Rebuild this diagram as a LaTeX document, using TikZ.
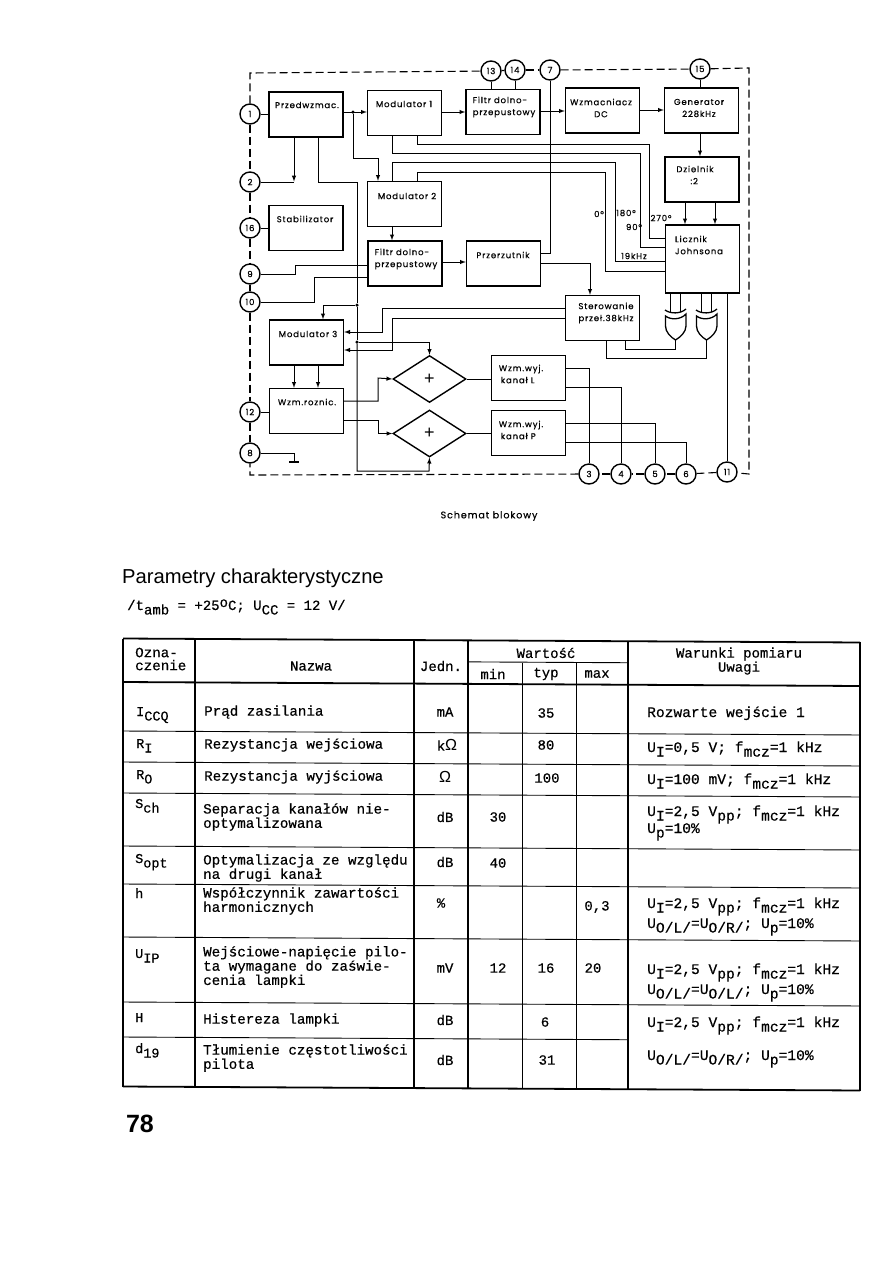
\documentclass[tikz,border=0pt]{standalone}
\usepackage{fontspec}
\setmainfont{Liberation Sans}
\newfontfamily\blokfont[FakeBold=0.6,LetterSpace=10]{Poppins}
\newfontfamily\maszfont[FakeBold=0.5]{Liberation Mono}
\usetikzlibrary{shapes.geometric}
\newcommand{\nisko}[1]{\raisebox{-4.5pt}{#1}}
\newcommand{\wysoko}[1]{\raisebox{3pt}{#1}}
\newcommand{\om}{{\rmfamily\fontsize{16}{16}\selectfont Ω}}
\tikzset{
  blok/.style={draw,line width=1.4pt,inner sep=0pt,minimum width=74pt,minimum height=45pt},
  romb/.style={draw,diamond,line width=1.4pt,inner sep=0pt,minimum width=73pt,minimum height=47pt},
  pin/.style={draw,circle,fill=white,line width=1.4pt,inner sep=0pt,minimum size=20pt,font=\blokfont\fontsize{8.5}{9}\selectfont},
  opis/.style={inner sep=0pt,align=center,font=\blokfont\fontsize{8.5}{12}\selectfont},
  opisl/.style={inner sep=0pt,align=left,font=\blokfont\fontsize{8.5}{12}\selectfont},
  wire/.style={line width=1pt},
  strz/.style={line width=1pt,-latex},
  ramka/.style={line width=1.1pt,dash pattern=on 8pt off 4pt},
  siatka/.style={line width=.9pt},
  gruba/.style={line width=1.8pt},
  tekst/.style={inner sep=0pt,anchor=west,align=left,font=\maszfont\fontsize{14.2}{13}\selectfont},
  wzor/.style={inner sep=0pt,anchor=base west,font=\maszfont\fontsize{14.6}{13}\selectfont},
  symbol/.style={inner sep=0pt,anchor=base west,font=\maszfont\fontsize{13.5}{13}\selectfont},
  srodek/.style={inner sep=0pt,align=center,font=\maszfont\fontsize{14}{13}\selectfont},
  kropka/.style={circle,fill,inner sep=0pt,minimum size=3.5pt}
}
\begin{document}
\begin{tikzpicture}[x=1pt,y=-1pt]
\useasboundingbox (0,0) rectangle (893,1262);

\node[blok] (przed) at (306,114.5) {};
\node[blok] (mod1) at (404.5,113) {};
\node[blok] (filtr1) at (503,112) {};
\node[blok] (wzm) at (602.5,110.5) {};
\node[blok] (gen) at (701.5,110.5) {};
\node[blok] (dziel) at (702,179.5) {};
\node[blok,minimum height=68pt] (licz) at (702.5,259) {};
\node[blok] (mod2) at (404.5,204) {};
\node[blok] (stab) at (306,228) {};
\node[blok] (filtr2) at (405,263.5) {};
\node[blok] (przerz) at (503.5,263.5) {};
\node[blok] (ster) at (602.5,318) {};
\node[blok] (mod3) at (306.5,342.5) {};
\node[blok] (wzmr) at (306.5,411) {};
\node[blok] (wzml) at (528.5,378) {};
\node[blok] (wzmp) at (528.5,433) {};
\node[romb] (sumal) at (429.5,379) {};
\node[romb] (sumap) at (429.5,433.5) {};

\node[opis] (tprzed) at (307,105) {Przedwzmac.};
\node[opis] (tmod1) at (404,104) {Modulator 1};
\node[opisl] (tfiltr1) at (504,107) {Filtr dolno-\\przepustowy};
\node[opis] (twzm) at (601,108) {Wzmacniacz\\DC\hspace{10pt}};
\node[opis] (tgen) at (699,108) {Generator\\228kHz};
\node[opisl] (tdziel) at (695,175) {Dzielnik\\\hspace{14pt}:2};
\node[opisl] (tlicz) at (699,245) {Licznik\\Johnsona};
\node[opis] (tmod2) at (407,196) {Modulator 2};
\node[opis] (tstab) at (305,219) {Stabilizator};
\node[opisl] (tfiltr2) at (406,259) {Filtr dolno-\\przepustowy};
\node[opis] (tprzerz) at (503,255) {Przerzutnik};
\node[opis] (tster) at (606,313) {Sterowanie\\przeł.38kHz};
\node[opis] (tmod3) at (308,334) {Modulator 3};
\node[opis] (twzmr) at (307,402) {Wzm.roznic.};
\node[opisl] (twzml) at (521,374) {Wzm.wyj.\\\hspace{2pt}kanał L};
\node[opisl] (twzmp) at (521,430) {Wzm.wyj.\\\hspace{2pt}kanał P};
\node[inner sep=0pt,font=\fontsize{18}{18}\selectfont] (plusl) at (sumal) {+};
\node[inner sep=0pt,font=\fontsize{18}{18}\selectfont] (plusp) at (sumap) {+};

\node[opis] (k0) at (599,214) {0°};
\node[opis] (k180) at (626,213) {180°};
\node[opis] (k90) at (634,227) {90°};
\node[opis] (k270) at (661,218) {270°};
\node[opis] (f19) at (634,256) {19kHz};
\node[opis,font=\blokfont\fontsize{9.5}{10}\selectfont] (podpis) at (489,516) {Schemat blokowy};

\foreach \nr/\x/\y in {1/250/114,2/250/182,16/250/228,9/250/274,10/250/302,12/250/412,8/250/453,13/491/71,14/515/70,7/550/70,15/700/69,3/589/474,4/621/474,5/655/474,6/686/474,11/727/472}
\node[pin] (p\nr) at (\x,\y) {\nr};

\coordinate (rog1) at (250,73);
\coordinate (rog2) at (749,68);
\coordinate (rog3) at (749,474);
\coordinate (rog4) at (250,475);
\draw[ramka] (p1) -- (rog1) -- (p13);
\draw[ramka] (p14) -- (p7);
\draw[ramka] (p7) -- (p15);
\draw[ramka] (p15) -- (rog2) -- (rog3) -- (p11);
\draw[ramka] (p11) -- (p6);
\draw[ramka] (p6) -- (p5);
\draw[ramka] (p5) -- (p4);
\draw[ramka] (p4) -- (p3);
\draw[ramka] (p3) -- (rog4) -- (p8);
\draw[ramka] (p1) -- (p2);
\draw[ramka] (p2) -- (p16);
\draw[ramka] (p16) -- (p9);
\draw[ramka] (p9) -- (p10);
\draw[ramka] (p10) -- (p12);
\draw[ramka] (p12) -- (p8);
\draw[ramka] (p13) -- (p14);

\draw[wire] (p1) -- (przed.west |- p1);
\draw[wire] (p16) -- (stab.west |- p16);
\draw[wire] (p12) -- (wzmr.west |- p12);
\draw[wire] (p13) -- (filtr1.north -| p13);
\draw[wire] (p14) -- (filtr1.north -| p14);
\draw[wire] (p15) -- (gen.north -| p15);
\draw[strz] (przed.east |- 0,112) -- (mod1.west |- 0,112);
\draw[strz] (mod1.east |- 0,112) -- (filtr1.west |- 0,112);
\draw[strz] (filtr1.east |- 0,111) -- (wzm.west |- 0,111);
\draw[strz] (wzm.east |- 0,110) -- (gen.west |- 0,110);
\node[kropka] (wezel1) at (353,112) {};
\draw[strz] (wezel1) |- (378,158) -- (mod2.north -| 378,0);
\draw[strz] (przed.south -| 294,0) -- (294,181.5);
\draw[wire] (p2) -- (294,182);
\draw[wire] (p7) |- (przerz.east |- 0,253);
\draw[strz] (gen.south -| p15) -- (dziel.north -| p15);
\draw[strz] (dziel.south -| 685,0) -- (licz.north -| 685,0);
\draw[strz] (dziel.south -| 715,0) -- (licz.north -| 715,0);

\draw[wire] (mod1.south -| 392,0) |- (640,153) |- (licz.west |- 0,247);
\draw[wire] (mod1.south -| 417,0) |- (649,144) |- (licz.west |- 0,238);
\draw[wire] (mod2.north -| 392,0) |- (615,162) |- (licz.west |- 0,261);
\draw[wire] (mod2.north -| 417,0) |- (605,172) |- (licz.west |- 0,271);
\draw[strz] (mod2.south -| 392,0) -- (filtr2.north -| 392,0);
\draw[strz] (filtr2.east |- 0,262) -- (przerz.west |- 0,262);
\draw[strz] (przerz.east |- 0,263) -| (ster.north -| 590,0);
\draw[wire] (p9) -| (295,265) -- (filtr2.west |- 0,265);
\draw[wire] (p10) -| (314,277) -- (filtr2.west |- 0,277);

\node[kropka] (wezel2) at (357,305) {};
\node[kropka] (wezel3) at (357,342) {};
\draw[wire] (przed.south -| 318,0) |- (357,182) -- (wezel2);
\draw[wire] (wezel2) -- (wezel3);
\draw[strz] (wezel3) |- (429,471) -- (sumap.south);
\draw[strz] (wezel2) -| (mod3.north -| 323,0);
\draw[strz] (wezel3) -| (sumal.north);
\draw[strz] (ster.west |- 0,308) -| (382,332) -- (mod3.east |- 0,332);
\draw[strz] (ster.west |- 0,318) -| (392,350) -- (mod3.east |- 0,350);
\draw[strz] (mod3.south -| 294,0) -- (wzmr.north -| 294,0);
\draw[strz] (mod3.south -| 318,0) -- (wzmr.north -| 318,0);
\draw[strz] (wzmr.east |- 0,401) -| (378,378) -- (sumal.west);
\draw[strz] (wzmr.east |- 0,420) -| (378,433.5) -- (sumap.west);
\draw[wire] (sumal.east) -- (wzml.west |- sumal.east);
\draw[wire] (sumap.east) -- (wzmp.west |- sumap.east);
\draw[wire] (wzml.east |- 0,368) -| (p3);
\draw[wire] (wzml.east |- 0,387) -| (p4);
\draw[wire] (wzmp.east |- 0,423) -| (p5);
\draw[wire] (wzmp.east |- 0,442) -| (p6);
\draw[wire] (p11) -- (licz.south -| p11);

\coordinate (ziemia) at (294,462);
\draw[wire] (p8) -| (ziemia);
\draw[line width=1.6pt] (289,462) -- (299,462);

\foreach \nazwa/\x in {xora/675.5,xorb/706.5}{
\coordinate (\nazwa) at (\x,340);
\draw[line width=1.3pt] (\x-10,316) .. controls (\x-5,320) and (\x+5,320) .. (\x+10.5,314) -- (\x+10.5,326) .. controls (\x+10.5,332) and (\x+5,337) .. (\nazwa) .. controls (\x-5,337) and (\x-10,332) .. (\x-10,326) -- cycle;
\draw[line width=1.3pt] (\x-10.5,310) .. controls (\x-5,314) and (\x+5,314) .. (\x+10.5,309);
\draw[wire] (licz.south -| \x-5,0) -- (\x-5,312);
\draw[wire] (licz.south -| \x+5,0) -- (\x+5,312);
}
\draw[wire] (xora) |- (625,349) -- (ster.south -| 625,0);
\draw[wire] (xorb) |- (606,358) -- (ster.south -| 606,0);

\node[anchor=west,inner sep=0pt,font=\fontsize{20.2}{20}\selectfont] (tytul) at (122,578) {Parametry charakterystyczne};
\node[anchor=west,inner sep=0pt,font=\maszfont\fontsize{14}{13}\selectfont] (warunki) at (127,607) {/t\nisko{amb} = +25\wysoko{o}C; U\nisko{CC} = 12 V/};

\begin{scope}[yslant=-0.0054,yshift=.66pt]
\foreach \x in {123,195,414,468,628,860}
\draw[gruba] (\x,638.5) -- (\x,1086.5);
\foreach \x in {522,576}
\draw[siatka] (\x,661) -- (\x,1086.5);
\draw[gruba] (123,638.5) -- (860,638.5);
\draw[gruba] (123,682) -- (860,682);
\draw[siatka] (468,660) -- (628,660);
\foreach \y in {731,762,793,846,884,937,1002}
\draw[siatka] (123,\y) -- (860,\y);
\draw[siatka] (123,1037) -- (628,1037);
\draw[gruba] (123,1086.5) -- (860,1086.5);
\end{scope}

\node[tekst] (h1) at (135,659) {Ozna-\\czenie};
\node[srodek] (h2) at (311,666) {Nazwa};
\node[srodek] (h3) at (441,666) {Jedn.};
\node[srodek] (h4) at (546,653) {Wartość};
\node[srodek] (h5) at (493,674) {min};
\node[srodek] (h6) at (546,674) {typ};
\node[srodek] (h7) at (597,674) {max};
\node[srodek] (h8) at (739,661) {Warunki pomiaru\\Uwagi};

\node[symbol] (a1) at (136,716) {I\nisko{CCQ}};
\node[symbol] (a2) at (136,748) {R\nisko{I}};
\node[symbol] (a3) at (136,779) {R\nisko{O}};
\node[symbol] (a4) at (135,808) {S\nisko{ch}};
\node[symbol] (a5) at (135,863) {S\nisko{opt}};
\node[symbol] (a6) at (135,898) {h};
\node[symbol] (a7) at (135,958) {U\nisko{IP}};
\node[symbol] (a8) at (135,1022) {H};
\node[symbol] (a9) at (135,1053) {d\nisko{19}};

\node[tekst] (b1) at (204,712) {Prąd zasilania};
\node[tekst] (b2) at (204,745) {Rezystancja wejściowa};
\node[tekst] (b3) at (204,777) {Rezystancja wyjściowa};
\node[tekst] (b4) at (203,817) {Separacja kanałów nie-\\optymalizowana};
\node[tekst] (b5) at (203,868) {Optymalizacja ze względu\\na drugi kanał};
\node[tekst] (b6) at (203,901) {Współczynnik zawartości\\harmonicznych};
\node[tekst] (b7) at (203,967) {Wejściowe-napięcie pilo-\\ta wymagane do zaświe-\\cenia lampki};
\node[tekst] (b8) at (203,1020) {Histereza lampki};
\node[tekst] (b9) at (203,1058) {Tłumienie częstotliwości\\pilota};

\node[srodek] (c1) at (445,712) {mA};
\node[srodek] (c2) at (447,745) {k\om};
\node[srodek] (c3) at (445,777) {\om};
\node[srodek] (c4) at (445,817) {dB};
\node[srodek] (c5) at (445,862) {dB};
\node[srodek] (c6) at (441,903) {\%};
\node[srodek] (c7) at (445,968) {mV};
\node[srodek] (c8) at (445,1020) {dB};
\node[srodek] (c9) at (445,1060) {dB};

\node[srodek] (d1) at (498,817) {30};
\node[srodek] (d2) at (498,863) {40};
\node[srodek] (d3) at (498,968) {12};
\node[srodek] (e1) at (546,713) {35};
\node[srodek] (e2) at (546,745) {80};
\node[srodek] (e3) at (547,778) {100};
\node[srodek] (e4) at (546,968) {16};
\node[srodek] (e5) at (545,1022) {6};
\node[srodek] (e6) at (547,1060) {31};
\node[srodek] (f1) at (597,907) {0,3};
\node[srodek] (f2) at (593,968) {20};

\node[wzor] (g1) at (647,717) {Rozwarte wejście 1};
\node[wzor] (g2) at (647,752) {U\nisko{I}=0,5 V; f\nisko{mcz}=1 kHz};
\node[wzor] (g3) at (647,784) {U\nisko{I}=100 mV; f\nisko{mcz}=1 kHz};
\node[wzor] (g4) at (647,816) {U\nisko{I}=2,5 V\nisko{pp}; f\nisko{mcz}=1 kHz};
\node[wzor] (g4b) at (647,833) {U\nisko{p}=10\%};
\node[wzor] (g5) at (647,908) {U\nisko{I}=2,5 V\nisko{pp}; f\nisko{mcz}=1 kHz};
\node[wzor] (g5b) at (647,928) {U\nisko{O/L/}=U\nisko{O/R/}; U\nisko{p}=10\%};
\node[wzor] (g6) at (647,974) {U\nisko{I}=2,5 V\nisko{pp}; f\nisko{mcz}=1 kHz};
\node[wzor] (g6b) at (647,994) {U\nisko{O/L/}=U\nisko{O/L/}; U\nisko{p}=10\%};
\node[wzor] (g7) at (647,1027) {U\nisko{I}=2,5 V\nisko{pp}; f\nisko{mcz}=1 kHz};
\node[wzor] (g7b) at (647,1060) {U\nisko{O/L/}=U\nisko{O/R/}; U\nisko{p}=10\%};

\node[inner sep=0pt,font=\bfseries\fontsize{25}{25}\selectfont] (strona) at (140,1124) {78};
\end{tikzpicture}
\end{document}
